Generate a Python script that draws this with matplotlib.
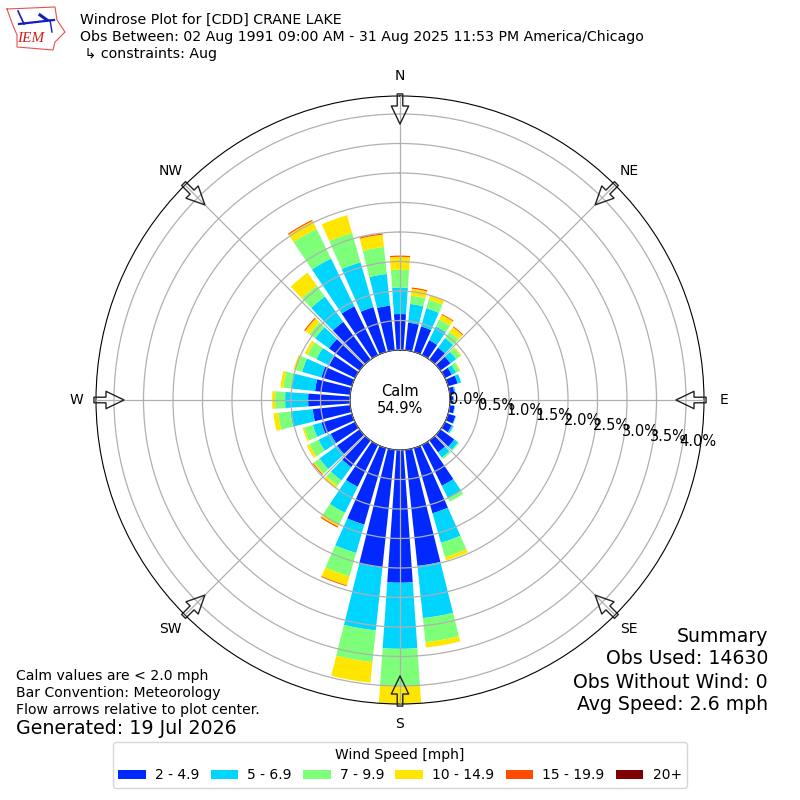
import matplotlib

matplotlib.use("Agg")
import matplotlib.pyplot as plt
import numpy as np
from matplotlib.lines import Line2D
from matplotlib.patches import Patch

# %% Data, percent of observations per direction bin
directions = np.arange(0, 360, 10)

speed_labels = ["2 - 4.9", "5 - 6.9", "7 - 9.9", "10 - 14.9", "15 - 19.9", "20+"]
speed_colors = ["#0028ff", "#00d5ff", "#7dff7a", "#ffe600", "#ff4a00", "#7f0000"]

bin_2_5 = [0.61, 0.47, 0.45, 0.28, 0.25, 0.21, 0.13, 0.17, 0.08, 0.06, 0.08, 0.13,
           0.13, 0.29, 0.25, 0.77, 1.15, 1.98, 2.25, 2.01, 1.35, 0.79, 0.56, 0.47,
           0.46, 0.54, 0.64, 0.71, 0.60, 0.54, 0.49, 0.64, 0.79, 0.92, 0.79, 0.76]
bin_5_7 = [0.45, 0.32, 0.32, 0.26, 0.20, 0.12, 0.08, 0.06, 0.02, 0.01, 0.01, 0.01,
           0.03, 0.08, 0.11, 0.24, 0.52, 0.89, 1.12, 1.07, 0.50, 0.49, 0.28, 0.37,
           0.23, 0.15, 0.38, 0.39, 0.41, 0.34, 0.24, 0.29, 0.53, 0.90, 0.79, 0.54]
bin_7_10 = [0.30, 0.14, 0.15, 0.13, 0.13, 0.09, 0.07, 0, 0, 0, 0, 0,
            0.01, 0.02, 0.03, 0.06, 0.25, 0.41, 0.63, 0.54, 0.41, 0.22, 0.11, 0.11,
            0.17, 0.15, 0.21, 0.17, 0.13, 0.11, 0.17, 0.12, 0.23, 0.56, 0.52, 0.46]
bin_10_15 = [0.22, 0.12, 0.08, 0.09, 0.10, 0.02, 0.01, 0, 0, 0, 0, 0,
             0, 0, 0, 0, 0.06, 0.09, 0.40, 0.35, 0.16, 0.04, 0.05, 0.02,
             0.05, 0.03, 0.08, 0.05, 0.05, 0.04, 0.05, 0.09, 0.27, 0.15, 0.31, 0.21]
bin_15_20 = [0.02, 0.02, 0, 0.015, 0.015, 0, 0, 0, 0, 0, 0, 0,
             0, 0, 0, 0, 0, 0, 0, 0, 0.015, 0.02, 0, 0.015,
             0, 0, 0, 0, 0, 0, 0, 0.02, 0, 0.02, 0, 0.02]
bin_20 = [0] * 36
speed_bins = [bin_2_5, bin_5_7, bin_7_10, bin_10_15, bin_15_20, bin_20]

ring_values = [0.0, 0.5, 1.0, 1.5, 2.0, 2.5, 3.0, 3.5, 4.0]
compass_labels = ["N", "NE", "E", "SE", "S", "SW", "W", "NW"]
compass_angles = [0, 45, 90, 135, 180, 225, 270, 315]

# %% Polar axes, center at pixel (400, 400)
fig = plt.figure(figsize=(8, 8), dpi=100)
ax = fig.add_axes([0.12, 0.12, 0.76, 0.76], projection="polar")
ax.set_theta_zero_location("N")
ax.set_theta_direction(-1)

theta = np.deg2rad(directions)
bottom = np.zeros(36)
for values, color in zip(speed_bins, speed_colors):
    ax.bar(theta, values, width=np.deg2rad(8), bottom=bottom, color=color, linewidth=0)
    bottom = bottom + np.array(values)

ax.set_rorigin(-0.847)
ax.set_ylim(0, 4.305)
ax.set_axisbelow(False)
ax.grid(True, color="#b0b0b0", linewidth=0.9)
ax.set_xticks(np.deg2rad(compass_angles))
ax.set_xticklabels([])
ax.set_yticks(ring_values)
ax.set_yticklabels([])
ax.tick_params(length=0)

# ring labels walk downward as they go out
for value in ring_values:
    ax.annotate(
        f"{value:.1f}%",
        xy=(np.pi / 2, value),
        xytext=(-1 - value * 1.5, -value * 10.4),
        textcoords="offset pixels",
        ha="left",
        va="center",
        fontsize=10.5,
        annotation_clip=False,
    )

ax.text(0, -0.847, "Calm\n54.9%", ha="center", va="center", fontsize=10.5, linespacing=1.1)

# compass arrows and labels
for label, angle in zip(compass_labels, compass_angles):
    a = np.deg2rad(angle)
    ax.annotate(
        "",
        xy=(a, 3.83),
        xytext=(a, 4.34),
        arrowprops=dict(
            facecolor="none",
            edgecolor="#222222",
            width=4,
            headwidth=12.5,
            headlength=13,
            linewidth=1.0,
            shrink=0,
        ),
        annotation_clip=False,
    )
    ax.text(a, 4.645, label, ha="center", va="center", fontsize=10, clip_on=False)


def fx(x):
    return x / 800


def fy(y):
    return 1 - y / 800


# %% Header
header = [
    (20, "Windrose Plot for [CDD] CRANE LAKE"),
    (37, "Obs Between: 02 Aug 1991 09:00 AM - 31 Aug 2025 11:53 PM America/Chicago"),
    (54, " ↳ constraints: Aug"),
]
for y, line in header:
    fig.text(fx(80), fy(y), line, fontsize=10.13, va="center")

# IEM logo, rough
outline_x = [7, 55, 57, 65, 55, 53, 17, 17, 12, 7]
outline_y = [9, 7, 20, 32, 42, 50, 47, 35, 23, 9]
fig.add_artist(Line2D([fx(v) for v in outline_x], [fy(v) for v in outline_y],
                      color="#e85050", linewidth=0.8))
fig.add_artist(Line2D([fx(19), fx(54)], [fy(24), fy(20)], color="#1020c0", linewidth=1.6))
fig.add_artist(Line2D([fx(18), fx(24)], [fy(11), fy(24)], color="#1020c0", linewidth=1.2))
fig.add_artist(Line2D([fx(40), fx(47)], [fy(15), fy(20)], color="#1020c0", linewidth=2.2))
fig.add_artist(Line2D([fx(50), fx(52)], [fy(20), fy(32)], color="#1020c0", linewidth=1.0))
fig.text(fx(17), fy(38), "IEM", color="#d02020", fontsize=11, style="italic",
         family="Liberation Serif", va="center")

# %% Footer notes
notes = [
    (676, "Calm values are < 2.0 mph", 10.05),
    (693, "Bar Convention: Meteorology", 10.05),
    (710, "Flow arrows relative to plot center.", 10.05),
    (729, "Generated: 19 Jul 2026", 13.7),
]
for y, line, size in notes:
    fig.text(fx(16), fy(y), line, fontsize=size, va="center")

summary = [
    (636, "Summary"),
    (659, "Obs Used: 14630"),
    (682, "Obs Without Wind: 0"),
    (705, "Avg Speed: 2.6 mph"),
]
for y, line in summary:
    fig.text(fx(768), fy(y), line, fontsize=13.6, ha="right", va="center")

handles = [Patch(facecolor=c, label=s) for c, s in zip(speed_colors, speed_labels)]
fig.legend(
    handles=handles,
    title="Wind Speed [mph]",
    ncol=6,
    loc="center",
    bbox_to_anchor=(0.5, fy(765)),
    fontsize=10,
    title_fontsize=10,
    handletextpad=0.65,
    columnspacing=0.8,
)

fig.savefig("out.png", dpi=100)
